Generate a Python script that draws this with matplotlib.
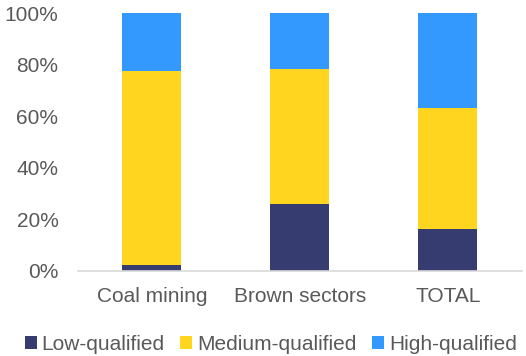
import matplotlib.pyplot as plt
import numpy as np

plt.rcParams['font.family'] = ['Liberation Sans', 'DejaVu Sans']

categories = ['Coal mining', 'Brown sectors', 'TOTAL']
series_names = ['Low-qualified', 'Medium-qualified', 'High-qualified']
low = [2.1, 26.0, 16.1]
medium = [75.6, 52.3, 47.3]
high = [22.3, 21.7, 36.6]
colors = ['#363B70', '#FFD520', '#3399FF']
text_color = '#595959'

fig = plt.figure(figsize=(5.26, 3.56), dpi=100)
ax = fig.add_axes([0.148, 0.2396, 0.844, 0.723])

x = np.arange(len(categories))
bottom = np.zeros(len(categories))
for name, vals, c in zip(series_names, [low, medium, high], colors):
    ax.bar(x, vals, width=0.4, bottom=bottom, color=c, label=name)
    bottom += np.array(vals)

ax.set_xlim(-0.5, 2.5)
ax.set_ylim(0, 100)
ax.set_yticks(range(0, 101, 20))
ax.set_yticklabels([f'{v}%' for v in range(0, 101, 20)])
ax.set_xticks(x)
ax.set_xticklabels(categories)
ax.tick_params(length=0, labelsize=15, labelcolor=text_color)
ax.tick_params(axis='x', pad=12)
ax.tick_params(axis='y', pad=14)
for s in ['top', 'right', 'left']:
    ax.spines[s].set_visible(False)
ax.spines['bottom'].set_color('#D9D9D9')
ax.spines['bottom'].set_linewidth(1.2)

fig.legend(loc='center', bbox_to_anchor=(0.515, 0.033), ncol=3, frameon=False,
           fontsize=15, labelcolor=text_color, handlelength=0.55, handleheight=0.55,
           handletextpad=0.25, columnspacing=0.75, borderpad=0)

fig.savefig('out.png', dpi=100)
